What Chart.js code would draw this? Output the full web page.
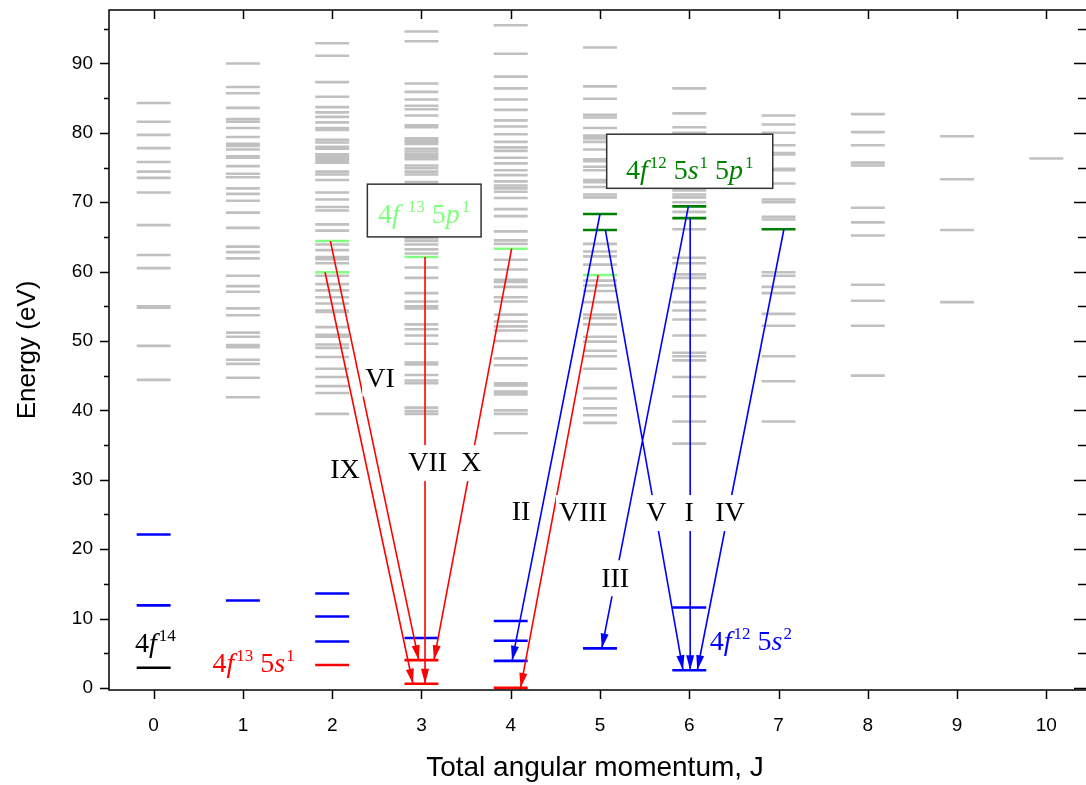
<!DOCTYPE html>
<html>
<head>
<meta charset="utf-8">
<title>Energy levels</title>
<script src="https://cdn.jsdelivr.net/npm/chart.js@4.4.1/dist/chart.umd.min.js"></script>
<style>
  body { margin: 0; background: #fff; overflow: hidden; }
  #wrap { width: 1086px; height: 785px; overflow: hidden; position: relative; }
  #chart { position: absolute; left: 0; top: 0; }
</style>
</head>
<body>
<div id="wrap"><canvas id="chart" width="1096" height="785"></canvas></div>
<script>
// total angular momentum J and level energies (eV)
const J_TICKS = [0, 1, 2, 3, 4, 5, 6, 7, 8, 9, 10];
const E_TICKS = [0, 5, 10, 15, 20, 25, 30, 35, 40, 45, 50, 55, 60, 65, 70, 75, 80, 85, 90, 95];

const levelsJ0 = [84.3, 81.6, 79.7, 77.8, 75.8, 74.4, 73.5, 71.4, 66.7, 62.4, 60.5, 55.0, 54.8, 49.3, 44.4];
const levelsJ1 = [90.0, 86.6, 85.7, 83.6, 82.0, 81.6, 80.7, 79.4, 78.4, 78.1, 77.6, 76.6, 76.4, 75.2, 74.1, 73.6, 72.0, 71.2, 70.2, 68.5, 66.3, 63.6, 62.8, 61.9, 59.4, 57.9, 57.1, 54.7, 53.7, 51.2, 50.6, 49.4, 49.1, 47.3, 46.7, 44.7, 41.9];
const levelsJ2 = [92.9, 91.1, 87.3, 85.2, 83.7, 82.95, 82.3, 81.5, 80.7, 80.4, 79.0, 78.6, 78.0, 77.7, 76.9, 76.5, 76.1, 75.7, 74.4, 74.0, 73.2, 71.4, 70.4, 69.3, 68.8, 66.8, 65.9, 63.9, 63.1, 62.1, 61.8, 61.2, 59.4, 58.2, 57.3, 56.3, 55.4, 54.4, 54.2, 52.0, 50.9, 50.6, 49.5, 49.0, 47.7, 46.0, 44.8, 43.5, 42.5, 39.5];
const levelsJ3 = [94.6, 93.2, 87.1, 85.9, 84.8, 83.9, 83.4, 82.5, 81.1, 80.8, 79.2, 78.8, 78.4, 77.7, 77.3, 76.9, 76.5, 76.2, 75.3, 74.9, 74.4, 74.0, 72.9, 64.8, 64.4, 63.9, 63.2, 62.6, 60.6, 59.1, 56.9, 55.7, 55.0, 54.7, 52.4, 51.7, 50.8, 49.6, 46.9, 46.6, 45.1, 44.3, 43.9, 40.4, 39.9, 39.5];
const levelsJ4 = [95.5, 91.4, 88.1, 86.4, 84.8, 83.3, 81.8, 80.9, 79.8, 78.7, 77.9, 77.4, 76.4, 75.6, 74.6, 73.9, 73.0, 72.4, 72.0, 71.5, 70.6, 69.0, 68.0, 65.8, 64.5, 64.0, 61.7, 60.3, 58.8, 58.5, 57.8, 56.3, 55.7, 53.8, 52.8, 52.1, 51.5, 50.0, 47.5, 46.5, 43.9, 43.6, 42.7, 42.3, 40.0, 39.5, 36.7];
const levelsJ5 = [92.3, 86.7, 84.9, 82.6, 82.2, 80.7, 79.6, 79.2, 78.7, 77.6, 76.2, 75.9, 75.1, 74.6, 73.2, 72.9, 72.2, 71.1, 70.7, 64.0, 62.9, 62.2, 61.0, 58.7, 58.0, 57.2, 55.6, 53.8, 53.3, 52.4, 50.6, 49.9, 48.6, 47.8, 46.0, 43.2, 41.7, 40.3, 39.3, 38.2];
const levelsJ6 = [86.4, 82.8, 80.8, 80.0, 79.7, 71.7, 71.1, 70.7, 70.0, 68.6, 66.1, 62.0, 61.2, 59.6, 59.1, 57.6, 55.6, 54.4, 53.1, 50.8, 48.3, 47.8, 47.2, 44.8, 42.0, 38.4, 35.2];
const levelsJ7 = [82.5, 81.2, 80.0, 78.2, 77.1, 76.9, 74.8, 74.6, 72.7, 70.4, 70.0, 67.9, 67.5, 59.9, 59.4, 57.8, 56.9, 53.9, 52.2, 47.8, 44.2, 38.4];
const levelsJ8 = [82.7, 80.1, 78.2, 75.7, 75.3, 69.2, 67.1, 65.2, 58.1, 55.8, 52.2, 45.0];
const levelsJ9 = [79.5, 73.3, 66.0, 55.6];
const levelsJ10 = [76.3];

// configuration-assigned levels
const blackJ = [0];
const blackE = [2.9];
const redJ = [2, 3, 3, 4];
const redE = [3.3, 4.0, 0.6, 0.0];
const blueJ = [0, 0, 1, 2, 2, 2, 3, 4, 4, 4, 5, 6, 6];
const blueE = [22.1, 11.9, 12.6, 13.6, 10.3, 6.7, 7.2, 9.65, 6.8, 3.9, 5.7, 11.6, 2.55];
const lightGreenJ = [2, 2, 3, 4, 5];
const lightGreenE = [64.4, 59.9, 62.1, 63.3, 59.5];
const darkGreenJ = [5, 5, 6, 6, 7];
const darkGreenE = [68.3, 66.0, 69.4, 67.7, 66.1];

// transitions (upper level -> lower level)
const redArrowFromJ = [1.98, 1.92, 3.04, 4.01, 4.98];
const redArrowFromE = [64.4, 59.9, 62.1, 63.3, 59.5];
const redArrowToJ = [2.97, 2.905, 3.04, 3.14, 4.11];
const redArrowToE = [4.0, 0.6, 0.6, 4.0, 0.0];
const blueArrowFromJ = [5.0, 5.06, 6.01, 5.99, 7.06];
const blueArrowFromE = [68.3, 66.0, 67.7, 69.4, 66.1];
const blueArrowToJ = [4.015, 5.93, 6.01, 5.02, 6.09];
const blueArrowToE = [3.9, 2.55, 2.55, 5.7, 2.55];

// transition labels
const romanText = ['I', 'II', 'III', 'IV', 'V', 'VI', 'VII', 'VIII', 'IX', 'X'];
const romanJ = [5.998, 4.116, 5.17, 6.457, 5.63, 2.535, 3.07, 4.81, 2.144, 3.556];
const romanE = [25.2, 25.4, 15.8, 25.2, 25.2, 44.6, 32.4, 25.2, 31.4, 32.4];

const HALF = 0.19;
const GRAY = '#c0c0c0';
const SERIF = '"Liberation Serif", "Times New Roman", serif';
const SANS = '"Liberation Sans", Arial, sans-serif';

function levelPoints(js, es) {
  const pts = [];
  for (let i = 0; i < es.length; i++) {
    pts.push({x: js[i] - HALF, y: es[i]}, {x: js[i] + HALF, y: es[i]}, {x: js[i], y: null});
  }
  return pts;
}

function grayPoints() {
  const cols = [levelsJ0, levelsJ1, levelsJ2, levelsJ3, levelsJ4, levelsJ5, levelsJ6, levelsJ7, levelsJ8, levelsJ9, levelsJ10];
  let pts = [];
  cols.forEach(function (col, j) {
    pts = pts.concat(levelPoints(col.map(() => J_TICKS[j]), col));
  });
  return pts;
}

function arrowPoints(fj, fe, tj, te) {
  const pts = [];
  for (let i = 0; i < fj.length; i++) {
    pts.push({x: fj[i], y: fe[i]}, {x: tj[i], y: te[i]}, {x: tj[i], y: null});
  }
  return pts;
}

function lineSet(data, color, width, order) {
  return {
    data: data, showLine: true, borderColor: color, borderWidth: width,
    pointRadius: 0, spanGaps: false, order: order, borderCapStyle: 'butt'
  };
}

// rich text: digits upright, orbital letters italic, occupations as superscripts
function drawRich(ctx, parts, x, y, size) {
  let cx = x;
  parts.forEach(function (p) {
    const fs = p.sup ? Math.round(size * 0.6) : size;
    ctx.font = (p.it ? 'italic ' : '') + fs + 'px ' + SERIF;
    ctx.fillText(p.t, cx, p.sup ? y - size * 0.4 : y);
    cx += ctx.measureText(p.t).width + (p.gap || 0);
  });
  return cx - x;
}

function richWidth(ctx, parts, size) {
  let w = 0;
  parts.forEach(function (p) {
    const fs = p.sup ? Math.round(size * 0.6) : size;
    ctx.font = (p.it ? 'italic ' : '') + fs + 'px ' + SERIF;
    w += ctx.measureText(p.t).width + (p.gap || 0);
  });
  return w;
}

const cfgBlack = [{t: '4'}, {t: 'f', it: true, gap: 2}, {t: '14', sup: true}];
const cfgRed = [{t: '4'}, {t: 'f', it: true, gap: 2}, {t: '13', sup: true}, {t: ' 5'}, {t: 's', it: true, gap: 1}, {t: '1', sup: true}];
const cfgBlue = [{t: '4'}, {t: 'f', it: true, gap: 2}, {t: '12', sup: true}, {t: ' 5'}, {t: 's', it: true, gap: 1}, {t: '2', sup: true}];
const cfgLight = [{t: '4'}, {t: 'f', it: true, gap: 8}, {t: '13', sup: true}, {t: ' 5'}, {t: 'p', it: true, gap: 2}, {t: '1', sup: true}];
const cfgDark = [{t: '4'}, {t: 'f', it: true, gap: 2}, {t: '12', sup: true}, {t: ' 5'}, {t: 's', it: true, gap: 1}, {t: '1', sup: true}, {t: ' 5'}, {t: 'p', it: true, gap: 2}, {t: '1', sup: true}];

const decor = {
  id: 'decor',
  afterDatasetsDraw(chart) {
    const ctx = chart.ctx, sx = chart.scales.x, sy = chart.scales.y;
    const px = v => sx.getPixelForValue(v), py = v => sy.getPixelForValue(v);
    ctx.save();

    // arrowheads
    function heads(fj, fe, tj, te, color) {
      ctx.fillStyle = color;
      for (let i = 0; i < fj.length; i++) {
        const x0 = px(fj[i]), y0 = py(fe[i]), x1 = px(tj[i]), y1 = py(te[i]);
        const len = Math.hypot(x1 - x0, y1 - y0), ux = (x1 - x0) / len, uy = (y1 - y0) / len;
        const bx = x1 - ux * 15, by = y1 - uy * 15;
        ctx.beginPath();
        ctx.moveTo(x1, y1);
        ctx.lineTo(bx - uy * 4, by + ux * 4);
        ctx.lineTo(bx + uy * 4, by - ux * 4);
        ctx.closePath();
        ctx.fill();
      }
    }
    heads(redArrowFromJ, redArrowFromE, redArrowToJ, redArrowToE, '#ff0000');
    heads(blueArrowFromJ, blueArrowFromE, blueArrowToJ, blueArrowToE, '#0000ff');

    // transition labels on white patches
    ctx.font = '28px ' + SERIF;
    ctx.textAlign = 'center';
    ctx.textBaseline = 'middle';
    romanText.forEach(function (t, i) {
      const w = ctx.measureText(t).width;
      ctx.fillStyle = '#fff';
      ctx.fillRect(px(romanJ[i]) - w / 2 - 3, py(romanE[i]) - 18, w + 6, 36);
      ctx.fillStyle = '#000';
      ctx.fillText(t, px(romanJ[i]), py(romanE[i]) + 1);
    });

    // configuration labels
    ctx.textAlign = 'left';
    ctx.textBaseline = 'alphabetic';
    ctx.fillStyle = '#000';
    drawRich(ctx, cfgBlack, px(-0.21), py(5.2), 28);
    ctx.fillStyle = '#ff0000';
    drawRich(ctx, cfgRed, px(0.66), py(2.3), 28);
    ctx.fillStyle = '#0000ff';
    drawRich(ctx, cfgBlue, px(6.23), py(5.5), 28);

    // boxed labels
    function boxed(parts, j0, j1, e0, e1, base, color) {
      const l = px(j0), r = px(j1), t = py(e1), b = py(e0);
      ctx.fillStyle = '#fff';
      ctx.fillRect(l, t, r - l, b - t);
      ctx.strokeStyle = '#333';
      ctx.lineWidth = 1.5;
      ctx.strokeRect(l, t, r - l, b - t);
      ctx.fillStyle = color;
      const w = richWidth(ctx, parts, 28);
      drawRich(ctx, parts, (l + r) / 2 - w / 2, py(base), 28);
    }
    boxed(cfgLight, 2.394, 3.668, 65.0, 72.6, 67.0, '#80ff80');
    boxed(cfgDark, 5.075, 6.935, 72.0, 79.8, 73.3, '#008000');
    ctx.restore();
  },
  afterDraw(chart) {
    const ctx = chart.ctx, a = chart.chartArea, sx = chart.scales.x, sy = chart.scales.y;
    ctx.save();
    ctx.strokeStyle = '#000';
    ctx.lineWidth = 1.5;
    ctx.strokeRect(a.left, a.top, a.right - a.left, a.bottom - a.top);
    ctx.beginPath();
    J_TICKS.forEach(function (v) {
      const x = Math.round(sx.getPixelForValue(v)) + 0.5;
      ctx.moveTo(x, a.bottom); ctx.lineTo(x, a.bottom + 9);
      ctx.moveTo(x, a.top); ctx.lineTo(x, a.top + 9);
    });
    E_TICKS.forEach(function (v) {
      const y = Math.round(sy.getPixelForValue(v)) + 0.5;
      const len = v % 10 === 0 ? 9 : 5;
      ctx.moveTo(a.left, y); ctx.lineTo(a.left - len, y);
      ctx.moveTo(a.right, y); ctx.lineTo(a.right - len - 8, y);
    });
    ctx.stroke();

    ctx.fillStyle = '#000';
    ctx.textAlign = 'center';
    ctx.textBaseline = 'middle';
    ctx.font = '28px ' + SANS;
    ctx.fillText('Total angular momentum, J', (a.left + a.right) / 2 - 5, 768);
    ctx.font = '26px ' + SANS;
    ctx.translate(28, (a.top + a.bottom) / 2);
    ctx.rotate(-Math.PI / 2);
    ctx.fillText('Energy (eV)', 0, 0);
    ctx.restore();
  }
};

new Chart(document.getElementById('chart'), {
  type: 'scatter',
  data: {
    datasets: [
      lineSet(arrowPoints(redArrowFromJ, redArrowFromE, redArrowToJ, redArrowToE), '#ff0000', 1.6, 1),
      lineSet(arrowPoints(blueArrowFromJ, blueArrowFromE, blueArrowToJ, blueArrowToE), '#0000ff', 1.6, 1),
      lineSet(levelPoints(blackJ, blackE), '#000000', 2.6, 3),
      lineSet(levelPoints(redJ, redE), '#ff0000', 2.6, 3),
      lineSet(levelPoints(blueJ, blueE), '#0000ff', 2.6, 3),
      lineSet(levelPoints(lightGreenJ, lightGreenE), '#80ff80', 2.6, 3),
      lineSet(levelPoints(darkGreenJ, darkGreenE), '#008000', 2.6, 3),
      lineSet(grayPoints(), GRAY, 2.6, 5)
    ]
  },
  options: {
    responsive: false,
    animation: false,
    events: [],
    layout: { padding: { top: 10, right: 5, left: 0, bottom: 0 } },
    plugins: { legend: { display: false }, tooltip: { enabled: false } },
    scales: {
      x: {
        type: 'linear', min: -0.5, max: 10.5,
        afterFit: function (s) { s.height = 95; s.paddingLeft = 0; s.paddingRight = 0; },
        afterBuildTicks: function (s) { s.ticks = J_TICKS.map(v => ({ value: v })); },
        grid: { display: false, drawTicks: false },
        border: { display: false },
        ticks: { color: '#000', font: { family: SANS, size: 19 }, padding: 24, maxRotation: 0, autoSkip: false }
      },
      y: {
        type: 'linear', min: -0.3, max: 97.7,
        afterFit: function (s) { s.width = 109; s.paddingTop = 0; s.paddingBottom = 0; },
        afterBuildTicks: function (s) { s.ticks = E_TICKS.map(v => ({ value: v })); },
        grid: { display: false, drawTicks: false },
        border: { display: false },
        ticks: {
          color: '#000', font: { family: SANS, size: 19 }, padding: 16, autoSkip: false,
          callback: function (v) { return v % 10 === 0 ? String(v) : ''; }
        }
      }
    }
  },
  plugins: [decor]
});
</script>
</body>
</html>
